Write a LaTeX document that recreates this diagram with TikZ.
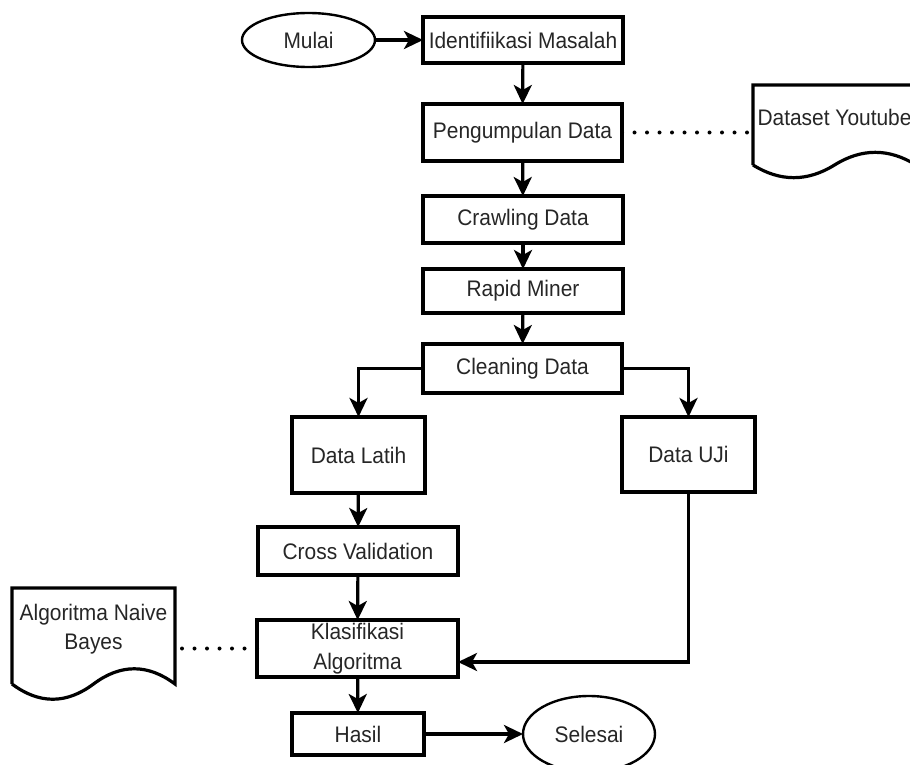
\documentclass[tikz,border=0pt]{standalone}
\usepackage{fontspec}
\setmainfont{Liberation Sans}[FakeStretch=0.93]
\usetikzlibrary{arrows.meta,shapes.geometric}

\tikzset{
  flow/.style={line width=3.2pt},
  box/.style={flow, draw, rectangle, inner sep=0pt, outer sep=0pt, align=center},
  term/.style={line width=2.4pt, draw, ellipse, inner sep=0pt, outer sep=0pt},
  docarea/.style={rectangle, inner sep=0pt, outer sep=0pt},
  arr/.style={flow, -{Stealth[length=19pt, width=18pt, inset=5pt]}},
  link/.style={line width=4pt, line cap=round, dash pattern=on 0pt off 12.5pt},
}

\begin{document}
\begin{tikzpicture}[x=1pt, y=-1pt,
  every node/.style={font=\fontsize{22.5}{28.5}\selectfont, text=black!85}]
\clip (0,0) rectangle (910,765);

% process steps
\node[term, minimum width=133pt, minimum height=54pt] (mulai) at (308.5,40) {Mulai};
\node[box, minimum width=200pt, minimum height=46pt] (ident)  at (523,40)     {Identifiikasi Masalah};
\node[box, minimum width=199pt, minimum height=57pt] (kumpul) at (522.5,132.5) {Pengumpulan Data};
\node[box, minimum width=200pt, minimum height=47pt] (crawl)  at (523,219.5)  {Crawling Data};
\node[box, minimum width=200pt, minimum height=44pt] (rapid)  at (523,291)    {Rapid Miner};
\node[box, minimum width=199pt, minimum height=49pt] (clean)  at (522.5,368.5) {Cleaning Data};
\node[box, minimum width=133pt, minimum height=76pt] (latih)  at (358.5,455)  {Data Latih};
\node[box, minimum width=133pt, minimum height=75pt] (uji)    at (688.5,454.5) {Data UJi};
\node[box, minimum width=200pt, minimum height=48pt] (cross)  at (358,551)    {Cross Validation};
\node[box, minimum width=201pt, minimum height=57pt] (klas)   at (357.5,648.5) {Klasifikasi\\[1pt]Algoritma};
\node[box, minimum width=132pt, minimum height=42pt] (hasil)  at (358,734)    {Hasil};
\node[term, minimum width=132pt, minimum height=76pt] (selesai) at (589,734)  {Selesai};

% document symbols
\node[docarea, minimum width=163pt, minimum height=80pt,
      label={[yshift=8pt]center:Dataset Youtube}] (yt) at (834.5,125) {};
\node[docarea, minimum width=163pt, minimum height=96pt,
      label={[yshift=7pt, align=center]center:Algoritma Naive\\[1pt]Bayes}] (nb) at (93.5,636) {};

\draw[flow] (yt.south west) |- (yt.north east) -- (yt.south east)
  .. controls +(-27.17,-16.9) and +(27.17,-16.9) .. (yt.south)
  .. controls +(-27.17,16.9) and +(27.17,16.9) .. (yt.south west);
\draw[flow] (nb.south west) |- (nb.north east) -- (nb.south east)
  .. controls +(-27.17,-20.3) and +(27.17,-20.3) .. (nb.south)
  .. controls +(-27.17,20.3) and +(27.17,20.3) .. (nb.south west);

% main flow
\draw[arr] (mulai) -- (ident);
\draw[arr] (ident) -- (kumpul);
\draw[arr] (kumpul) -- (crawl);
\draw[arr] (crawl) -- (rapid);
\draw[arr] (rapid) -- (clean);
\draw[arr] (clean.west) -| (latih.north);
\draw[arr] (clean.east) -| (uji.north);
\draw[arr] (latih) -- (cross);
\draw[arr] (cross) -- (klas);
\draw[arr] (uji.south) |- ([yshift=-13.5pt]klas.east);
\draw[arr] (klas) -- (hasil);
\draw[arr] (hasil) -- (selesai);

% associations
\draw[link] (kumpul.east) -- (yt.west |- kumpul.east);
\draw[link] (klas.west) -- (nb.east |- klas.west);
\end{tikzpicture}
\end{document}
